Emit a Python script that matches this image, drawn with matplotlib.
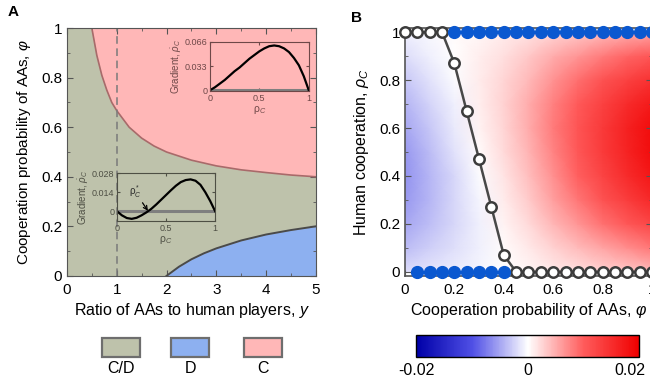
import numpy as np
import matplotlib.pyplot as plt
from matplotlib.colors import LinearSegmentedColormap
from matplotlib.patches import Rectangle
from matplotlib.ticker import MultipleLocator

plt.rcParams['font.family'] = ['Liberation Sans', 'DejaVu Sans']
plt.rcParams['mathtext.fontset'] = 'custom'
plt.rcParams['mathtext.rm'] = 'Liberation Sans'
plt.rcParams['mathtext.it'] = 'Liberation Sans:italic'

# ---- panel A: phase diagram boundaries
y_up = [0.5, 0.6, 0.7, 0.8, 0.9, 1.0, 1.25, 1.5, 1.75, 2.0, 2.5, 3.0, 3.5, 4.0, 4.5, 5.0]
phi_up = [1.0, 0.89, 0.81, 0.75, 0.70, 0.667, 0.60, 0.556, 0.524, 0.50, 0.467, 0.444, 0.428, 0.417, 0.407, 0.40]
y_low = [2.0, 2.25, 2.5, 2.75, 3.0, 3.5, 4.0, 4.5, 5.0]
phi_low = [0.0, 0.037, 0.067, 0.091, 0.111, 0.143, 0.167, 0.185, 0.20]

# insets: gradient curves
rho_in = [0, 0.05, 0.1, 0.15, 0.2, 0.25, 0.3, 0.35, 0.4, 0.45, 0.5,
          0.55, 0.6, 0.65, 0.7, 0.75, 0.8, 0.85, 0.9, 0.95, 1.0]
grad_hi = [0, 0.004, 0.009, 0.014, 0.020, 0.026, 0.031, 0.037, 0.043, 0.048, 0.053,
           0.057, 0.060, 0.061, 0.060, 0.057, 0.052, 0.044, 0.034, 0.019, 0.0]
grad_lo = [0, -0.0030, -0.0050, -0.0056, -0.0048, -0.0030, -0.0008, 0.0018, 0.0050, 0.0085, 0.0120,
           0.0155, 0.0188, 0.0215, 0.0230, 0.0235, 0.0225, 0.0195, 0.0140, 0.0075, 0.0]

# ---- panel B: gradient field (thousandths), rows rho = 0..1, cols phi = 0..1
phi_grid = [0, 0.1, 0.2, 0.3, 0.4, 0.5, 0.6, 0.7, 0.8, 0.9, 1.0]
rho_grid = [0, 0.1, 0.2, 0.3, 0.4, 0.5, 0.6, 0.7, 0.8, 0.9, 1.0]
field = [
    [-2.0, -1.5, -1.0, -0.5, 0.0, 0.6, 1.3, 2.0, 2.7, 3.4, 4.1],
    [-3.8, -2.8, -1.8, -0.8, 0.2, 1.3, 2.7, 4.1, 5.6, 7.0, 8.4],
    [-5.1, -3.7, -2.2, -0.8, 0.7, 2.3, 4.4, 6.5, 8.6, 10.6, 12.4],
    [-5.8, -4.1, -2.3, -0.5, 1.2, 3.2, 5.8, 8.4, 11.0, 13.3, 15.5],
    [-6.1, -4.1, -2.2, -0.2, 1.7, 4.0, 6.8, 9.7, 12.5, 15.2, 17.6],
    [-5.8, -3.8, -1.7, 0.3, 2.2, 4.6, 7.6, 10.6, 13.5, 16.2, 18.6],
    [-5.1, -3.2, -1.2, 0.7, 2.6, 5.0, 8.0, 10.9, 13.7, 16.3, 18.6],
    [-4.3, -2.5, -0.8, 1.0, 2.7, 5.0, 7.7, 10.3, 12.9, 15.2, 17.3],
    [-3.2, -1.7, -0.3, 1.1, 2.5, 4.3, 6.7, 8.8, 11.0, 12.9, 14.6],
    [-2.0, -0.9, 0.1, 1.0, 2.0, 3.4, 5.0, 6.5, 8.0, 9.4, 10.7],
    [-0.8, -0.4, 0.2, 0.6, 1.1, 1.8, 2.6, 3.4, 4.2, 4.9, 5.6],
]

# fixed points
phi_open = [0, 0.05, 0.1, 0.15, 0.2, 0.25, 0.3, 0.35, 0.4, 0.45, 0.5, 0.55, 0.6,
            0.65, 0.7, 0.75, 0.8, 0.85, 0.9, 0.95, 1.0]
rho_open = [1, 1, 1, 1, 0.87, 0.67, 0.47, 0.27, 0.07, 0, 0, 0, 0,
            0, 0, 0, 0, 0, 0, 0, 0]
phi_top = [0.2, 0.25, 0.3, 0.35, 0.4, 0.45, 0.5, 0.55, 0.6, 0.65, 0.7, 0.75, 0.8,
           0.85, 0.9, 0.95, 1.0]
rho_top = [1] * len(phi_top)
phi_bot = [0.05, 0.1, 0.15, 0.2, 0.25, 0.3, 0.35, 0.4]
rho_bot = [0] * len(phi_bot)

c_cd = '#bec2ab'
c_d = '#8db0f0'
c_c = '#ffb7b7'

fig = plt.figure(figsize=(6.5, 3.8), dpi=100)

# ---------------- A
ax = fig.add_axes([0.103, 0.274, 0.383, 0.652])
ax.set_facecolor(c_cd)
ax.fill_between(y_up, phi_up, 1, color=c_c, lw=0)
ax.fill_between([0.5, 5.0], [1, 1], [1, 1], color=c_c, lw=0)
ax.fill_between(y_low, 0, phi_low, color=c_d, lw=0)
ax.plot(y_up, phi_up, color='#a86a6a', lw=1.2)
ax.plot(y_low, phi_low, color='#4a4a4a', lw=1.4)
ax.axvline(1, color='#7a7a7a', lw=1.1, ls=(0, (5, 3)))
ax.set_xlim(0, 5)
ax.set_ylim(0, 1)
ax.xaxis.set_major_locator(MultipleLocator(1))
ax.xaxis.set_minor_locator(MultipleLocator(0.5))
ax.yaxis.set_major_locator(MultipleLocator(0.2))
ax.yaxis.set_minor_locator(MultipleLocator(0.1))
ax.set_yticks([0, 0.2, 0.4, 0.6, 0.8, 1.0], ['0', '0.2', '0.4', '0.6', '0.8', '1'])
ax.tick_params(which='both', direction='in', top=True, right=True, labelsize=11, color='#555555')
ax.tick_params(which='major', length=4)
ax.tick_params(which='minor', length=2.5)
ax.tick_params(axis='x', pad=5)
for s in ax.spines.values():
    s.set_color('#555555')
ax.set_xlabel('Ratio of AAs to human players, $y$', fontsize=11.5, labelpad=3)
ax.set_ylabel(r'Cooperation probability of AAs, $\varphi$', fontsize=11, labelpad=6)


def inset(rect, xs, ys, ylim, yt, ytl, col):
    ia = fig.add_axes(rect)
    ia.patch.set_alpha(0)
    ia.axhline(0, color='#7f7f7f', lw=2.2)
    ia.plot(xs, ys, color='black', lw=1.6)
    ia.set_xlim(0, 1)
    ia.set_ylim(*ylim)
    ia.set_xticks([0, 0.5, 1], ['0', '0.5', '1'])
    ia.set_yticks(yt, ytl)
    ia.tick_params(direction='in', top=True, right=True, labelsize=6.5, length=2.5,
                   colors=col, pad=2)
    for s in ia.spines.values():
        s.set_color(col)
    ia.set_xlabel('ρ$_C$', fontsize=7.5, color=col, labelpad=1)
    ia.set_ylabel(r'Gradient, $\dot{\rho}_C$', fontsize=7, color=col, labelpad=1)
    return ia


inset([0.323, 0.761, 0.152, 0.129], rho_in, grad_hi, (-0.0008, 0.066),
      [0, 0.033, 0.066], ['0', '0.033', '0.066'], '#6e4848')
ia2 = inset([0.180, 0.418, 0.151, 0.126], rho_in, grad_lo, (-0.0073, 0.028),
            [0, 0.014, 0.028], ['0', '0.014', '0.028'], '#4e4f44')
ia2.annotate(r'ρ$_C^*$', xy=(0.315, 0.0003), xytext=(0.12, 0.012), fontsize=7,
             color='#2a2a2a',
             arrowprops=dict(arrowstyle='->', color='black', lw=0.9, shrinkA=0, shrinkB=0))

# legend patches
for lab, col, x0 in [('C/D', c_cd, 0.157), ('D', c_d, 0.263), ('C', c_c, 0.375)]:
    fig.add_artist(Rectangle((x0, 0.061), 0.059, 0.05, transform=fig.transFigure,
                             facecolor=col, edgecolor='#6e6e6e', lw=1.6))
    fig.text(x0 + 0.0295, 0.029, lab, ha='center', va='center', fontsize=11.5)

fig.text(0.012, 0.968, 'A', fontsize=11, fontweight='bold', va='center')
fig.text(0.540, 0.952, 'B', fontsize=11, fontweight='bold', va='center')

# ---------------- B
cmap = LinearSegmentedColormap.from_list('bwr2', ['#0000a8', '#5050e6', '#ffffff', '#ff5c5c', '#f00000'])
bx = fig.add_axes([0.623, 0.274, 0.38, 0.652])
F = np.array(field) * 1e-3
mesh = bx.pcolormesh(phi_grid, rho_grid, F, cmap=cmap, vmin=-0.02, vmax=0.02, shading='gouraud')
bx.plot(phi_top, rho_top, color='#505050', lw=1.2, clip_on=False, zorder=3)
bx.plot(phi_bot, rho_bot, color='#505050', lw=1.2, clip_on=False, zorder=3)
bx.plot(phi_open, rho_open, color='#484848', lw=1.8, marker='o', ms=7.5, mfc='white',
        mec='#3c3c3c', mew=1.8, clip_on=False, zorder=4)
bx.plot(phi_top, rho_top, ls='none', marker='o', ms=8.5, mfc='#0a58d0', mec='#0a58d0',
        clip_on=False, zorder=5)
bx.plot(phi_bot, rho_bot, ls='none', marker='o', ms=8.5, mfc='#0a58d0', mec='#0a58d0',
        clip_on=False, zorder=5)
bx.set_xlim(0, 1)
bx.set_ylim(-0.017, 1.017)
bx.set_xticks([0, 0.2, 0.4, 0.6, 0.8, 1.0], ['0', '0.2', '0.4', '0.6', '0.8', '1'])
bx.set_yticks([0, 0.2, 0.4, 0.6, 0.8, 1.0], ['0', '0.2', '0.4', '0.6', '0.8', '1'])
bx.xaxis.set_minor_locator(MultipleLocator(0.1))
bx.yaxis.set_minor_locator(MultipleLocator(0.1))
bx.tick_params(which='both', direction='in', top=True, right=True, labelsize=11, color='#555555')
bx.tick_params(which='major', length=4)
bx.tick_params(which='minor', length=2.5)
bx.tick_params(axis='x', pad=5)
for s in bx.spines.values():
    s.set_color('#555555')
    s.set_linewidth(1.2)
bx.set_xlabel(r'Cooperation probability of AAs, $\varphi$', fontsize=11.5, labelpad=3)
bx.set_ylabel(r'Human cooperation, $\rho_C$', fontsize=11.5, labelpad=6)

cax = fig.add_axes([0.640, 0.0605, 0.343, 0.058])
cb = fig.colorbar(mesh, cax=cax, orientation='horizontal')
cb.set_ticks([-0.0202, 0, 0.0184], labels=['-0.02', '0', '0.02'])
cb.ax.tick_params(length=0, labelsize=11.5, pad=4)
cb.outline.set_linewidth(1.0)

fig.savefig('out.png', dpi=100)
